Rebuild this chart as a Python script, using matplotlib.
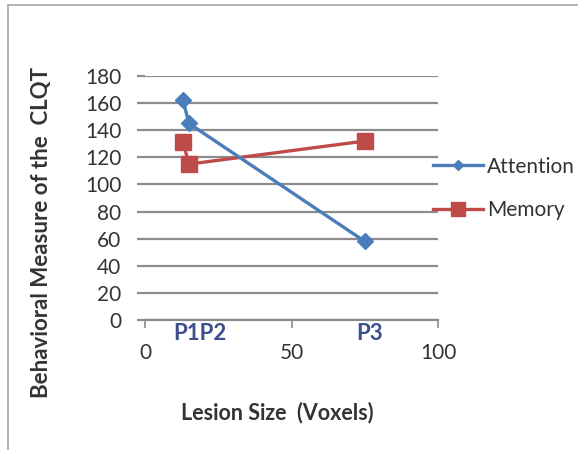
import matplotlib
matplotlib.use("Agg")
import matplotlib.pyplot as plt
from matplotlib.patches import Rectangle
from matplotlib.lines import Line2D

plt.rcParams['font.family'] = ['Lato', 'DejaVu Sans']

# data
lesion_size = [13, 15, 75]
attention = [162, 145, 58]
memory = [131, 115, 132]
series_names = ["Attention", "Memory"]
point_labels = ["P1P2", "P3"]
point_label_x = [18.8, 76.8]
y_ticks = list(range(0, 181, 20))
x_ticks = [0, 50, 100]

blue = "#4A7EBB"
red = "#BE4B48"
grid_grey = "#8C8C8C"
text_grey = "#333333"

fig = plt.figure(figsize=(5.78, 4.5), dpi=100)
ax = fig.add_axes([145 / 578, 1 - 320 / 450, 293 / 578, 244 / 450])

# grey frame round the chart, cut off at right and bottom
fig.patches.append(Rectangle((8 / 578, -0.1), 1.2, 1 - 5 / 450 + 0.1,
                             transform=fig.transFigure, fill=False,
                             edgecolor="#A6A6A6", linewidth=1.2))

ax.plot(lesion_size, attention, color=blue, linewidth=2.4, marker="D",
        markersize=8.5, zorder=4)
ax.plot(lesion_size, memory, color=red, linewidth=2.4, marker="s",
        markersize=12, zorder=3)

ax.set_xlim(0, 100)
ax.set_ylim(0, 180)
ax.set_yticks(y_ticks)
ax.set_xticks(x_ticks)
ax.yaxis.grid(True, color=grid_grey, linewidth=1.6)
ax.set_axisbelow(True)
for side in ["top", "right", "left"]:
    ax.spines[side].set_visible(False)
ax.spines["bottom"].set_color(grid_grey)
ax.spines["bottom"].set_linewidth(1.6)
ax.tick_params(axis="y", length=6, width=1.6, color=grid_grey, pad=11,
               labelsize=15, labelcolor=text_grey)
ax.tick_params(axis="x", length=5.5, width=1.2, color=grid_grey, pad=11,
               labelsize=15, labelcolor=text_grey)

for label, xpos in zip(point_labels, point_label_x):
    ax.annotate(label, xy=(xpos, 0), xycoords=("data", "axes fraction"),
                xytext=(0, -10), textcoords="offset points", ha="center",
                va="center", fontsize=16, fontweight="bold", color="#3A4F8C")

fig.text(42 / 578, 1 - 232 / 450, "Behavioral Measure of the  CLQT",
         rotation=90, ha="center", va="center", fontsize=16,
         fontweight="bold", color=text_grey)
fig.text(277 / 578, 1 - 413 / 450, "Lesion Size  (Voxels)", ha="center",
         va="center", fontsize=15.5, fontweight="bold", color=text_grey)

handles = [Line2D([], [], color=blue, linewidth=2.4, marker="D", markersize=5),
           Line2D([], [], color=red, linewidth=2.4, marker="s", markersize=10)]
ax.legend(handles, series_names, loc="center left",
          bbox_to_anchor=(0.983, 0.539), frameon=False, fontsize=15,
          handlelength=2.4, handletextpad=0.2, labelspacing=1.15,
          borderpad=0, borderaxespad=0, labelcolor=text_grey)

fig.savefig("out.png", dpi=100)
